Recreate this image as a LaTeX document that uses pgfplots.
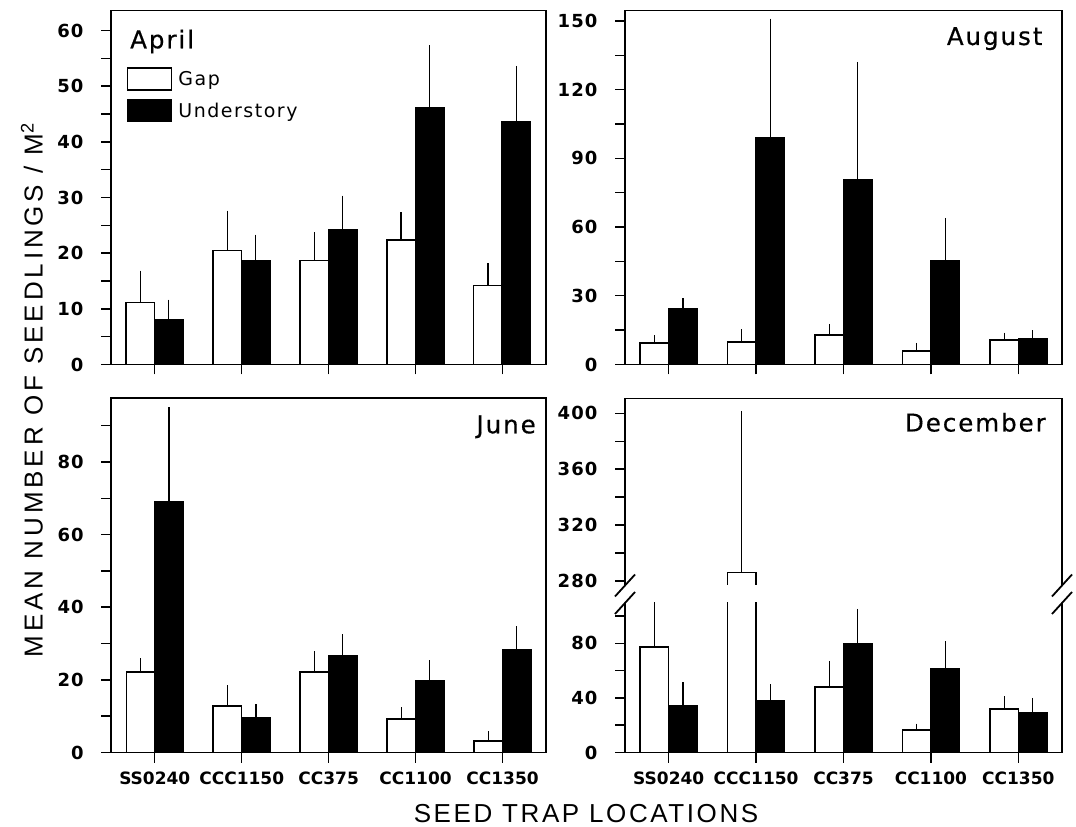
\documentclass[border=0pt]{standalone}
\usepackage{fontspec}
\setmainfont{DejaVu Sans}
\newfontfamily\labfont{Liberation Sans}[LetterSpace=10]
\newfontfamily\ylabfont{Liberation Sans}[LetterSpace=15]
\newfontfamily\ttlfont{DejaVu Sans}[LetterSpace=8, FakeBold=0.5]
\newfontfamily\legfont{DejaVu Sans}[LetterSpace=8]
\newfontfamily\ytickfont{DejaVu Sans}[LetterSpace=6]
\newfontfamily\xtickfont{DejaVu Sans}[LetterSpace=0]
\usepackage{pgfplots}
\pgfplotsset{compat=1.18}
\usepackage{pgfplotstable}

\pgfplotstableread{
x g ge u ue
0 11.1 5.3 8.0 3.2
1 20.5 6.7 18.7 4.2
2 18.7 4.6 24.2 5.7
3 22.4 4.5 46.1 10.8
4 14.2 3.5 43.6 9.6
}\april
\pgfplotstableread{
x g ge u ue
0 9.4 2.2 24.3 3.6
1 9.9 4.3 99.1 50.9
2 12.8 3.8 80.8 50.3
3 5.8 2.5 45.2 17.7
4 10.8 2.0 11.2 2.6
}\august
\pgfplotstableread{
x g ge u ue
0 22.2 3.1 68.9 25.4
1 12.8 5.0 9.6 3.0
2 22.2 5.0 26.5 5.4
3 9.2 2.6 19.7 5.0
4 3.2 2.0 28.4 5.6
}\june
\pgfplotstableread{
x g ge u ue
0 77.1 32.2 34.4 15.1
1 286.2 113.8 38.1 9.9
2 48.0 17.2 80.0 23.4
3 16.3 3.0 61.0 18.8
4 31.9 7.3 29.0 9.1
}\december

\pgfplotsset{
  panel/.style={
    scale only axis,
    ybar=0pt, bar width=28.5pt,
    xmin=-0.5, xmax=4.5, xtick={0,1,2,3,4},
    tick align=outside, xtick pos=bottom, ytick pos=left,
    major tick length=10pt, minor tick length=10pt,
    tick style={line width=1.4pt, black},
    axis line style={line width=1.8pt},
    ymin=0,
    /pgf/number format/assume math mode=true,
    yticklabel style={font=\ytickfont\bfseries\fontsize{18pt}{19pt}\selectfont, xshift=-14pt},
    xticklabel style={font=\xtickfont\bfseries\fontsize{17pt}{18pt}\selectfont, yshift=-6pt},
    legend image code/.code={\draw[##1] (0pt,-11pt) rectangle (44pt,11pt);},
  },
  gapbar/.style={fill=white, draw=black, line width=1.5pt,
    error bars/.cd, y dir=plus, y explicit,
    error bar style={line width=1.1pt, black},
    error mark options={mark size=2.5pt, line width=1.1pt, black}},
  undbar/.style={fill=black, draw=black, line width=1.5pt,
    error bars/.cd, y dir=plus, y explicit,
    error bar style={line width=1.1pt, black},
    error mark options={mark size=2.5pt, line width=1.1pt, black}},
}
\newcommand{\ttl}{\ttlfont\fontsize{24.5pt}{26pt}\selectfont}

\begin{document}
\begin{tikzpicture}
\path[use as bounding box] (0,0) rectangle (1076pt,827pt);

% April
\begin{axis}[panel, at={(111pt,462.5pt)}, anchor=south west,
  width=434.7pt, height=354pt, ymax=63.6,
  ytick={0,10,...,60}, minor ytick={5,15,...,55},
  xticklabels={,,,,},
  legend style={at={(rel axis cs:0.036,0.84)}, anchor=north west,
    draw=none, fill=none, inner sep=0pt, row sep=8pt,
    font=\legfont\fontsize{19pt}{20pt}\selectfont,
    nodes={inner sep=0pt, anchor=west},
    /tikz/every odd column/.append style={column sep=6pt}},
  ]
\addplot[gapbar] table[x=x, y=g, y error=ge] {\april};
\addplot[undbar] table[x=x, y=u, y error=ue] {\april};
\legend{Gap, Understory}
\node[anchor=base west, font=\ttl] at ([shift={(15.7pt,-37.8pt)}]rel axis cs:0,1) {April};
\end{axis}

% August
\begin{axis}[panel, at={(625pt,462.5pt)}, anchor=south west,
  width=437pt, height=354pt, ymax=154.6,
  ytick={0,30,...,150}, minor ytick={15,45,...,135},
  xticklabels={,,,,},
  ]
\addplot[gapbar] table[x=x, y=g, y error=ge] {\august};
\addplot[undbar] table[x=x, y=u, y error=ue] {\august};
\node[anchor=base east, font=\ttl] at ([shift={(-16pt,-34.5pt)}]rel axis cs:1,1) {August};
\end{axis}

% June
\begin{axis}[panel, at={(111.3pt,74.5pt)}, anchor=south west,
  width=434.7pt, height=354.2pt, ymax=97.5,
  ytick={0,20,...,80}, minor ytick={10,30,...,90},
  xticklabels={SS0240,CCC1150,CC375,CC1100,CC1350},
  ]
\addplot[gapbar] table[x=x, y=g, y error=ge] {\june};
\addplot[undbar] table[x=x, y=u, y error=ue] {\june};
\node[anchor=base east, font=\ttl] at ([shift={(-6.7pt,-35pt)}]rel axis cs:1,1) {June};
\end{axis}

% December lower
\begin{axis}[panel, at={(625pt,74.5pt)}, anchor=south west,
  width=437pt, height=149.5pt, ymax=109.5,
  axis line style={draw=none},
  ytick={0,40,80}, minor ytick={20,60,100},
  xticklabels={SS0240,CCC1150,CC375,CC1100,CC1350},
  after end axis/.code={
    \draw[line width=1.8pt] (rel axis cs:0,1) -- (rel axis cs:0,0) -- (rel axis cs:1,0) -- (rel axis cs:1,1);
    \foreach \rx in {0,1}{
      \draw[line width=1.8pt] ([shift={(-10pt,-11pt)}]rel axis cs:\rx,1) -- ([shift={(10pt,11pt)}]rel axis cs:\rx,1);
      \draw[line width=1.8pt] ([shift={(-10pt,6.5pt)}]rel axis cs:\rx,1) -- ([shift={(10pt,28.5pt)}]rel axis cs:\rx,1);
    }
  },
  ]
\addplot[gapbar] table[x=x, y=g, y error=ge] {\december};
\addplot[undbar] table[x=x, y=u, y error=ue] {\december};
\end{axis}

% December upper (plot area clipped below the break)
\begin{scope}
\clip (0pt,200pt) rectangle (618pt,827pt) (618pt,242pt) rectangle (1076pt,827pt);
\begin{axis}[panel, at={(625pt,204.1pt)}, anchor=south west,
  width=437pt, height=224.4pt, ymin=250, ymax=410.6,
  axis line style={draw=none},
  xtick=\empty,
  ytick={280,320,360,400}, minor ytick={300,340,380},
  after end axis/.code={
    \draw[line width=1.8pt] (axis cs:-0.5,277.1) -- (rel axis cs:0,1) -- (rel axis cs:1,1) -- (axis cs:4.5,277.1);
  },
  ]
\addplot[gapbar] table[x=x, y=g, y error=ge] {\december};
\addplot[undbar] table[x=x, y=u, y error=ue] {\december};
\node[anchor=base east, font=\ttl] at ([shift={(-12.7pt,-33pt)}]rel axis cs:1,1) {December};
\end{axis}
\end{scope}

\node[rotate=90, font=\ylabfont\fontsize{26pt}{28pt}\selectfont] at (32pt,437pt) {MEAN NUMBER OF SEEDLINGS / M\textsuperscript{2}};
\node[anchor=base, font=\labfont\fontsize{26pt}{28pt}\selectfont] at (586pt,4pt) {SEED TRAP LOCATIONS};
\end{tikzpicture}
\end{document}
